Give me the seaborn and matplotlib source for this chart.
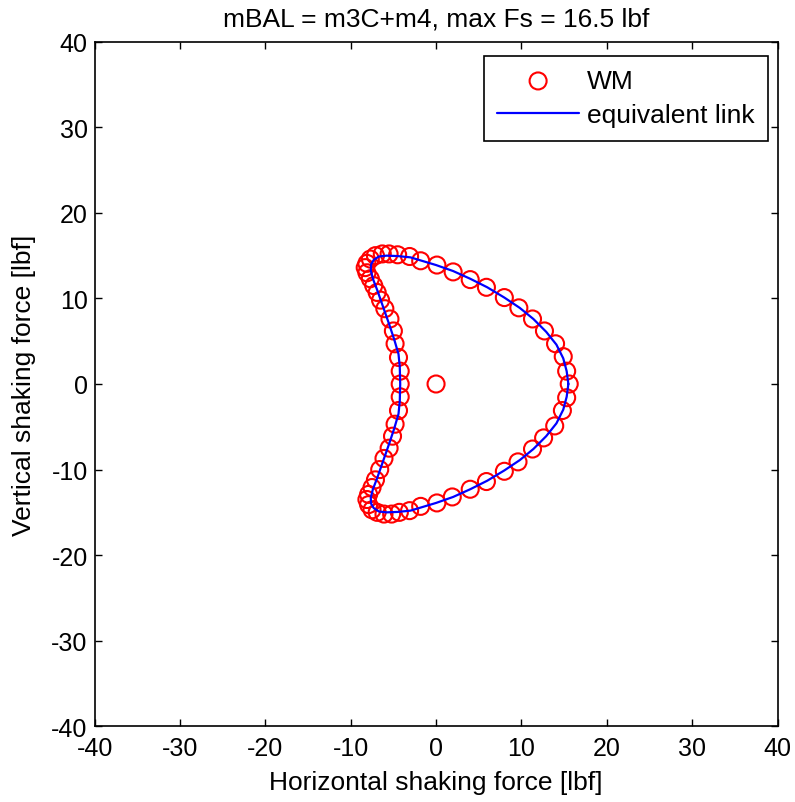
import pandas as pd
import seaborn as sns
import matplotlib.pyplot as plt

# WM points, counter-clockwise from the right tip
wm_x = [15.6, 15.3, 14.9, 14.0, 12.7, 11.3, 9.7, 8.0, 5.9, 4.0, 2.0, 0.1, -1.8, -3.1,
        -4.5, -5.5, -6.3, -7.1, -7.7, -8.1, -8.3, -8.1, -7.7, -7.3, -6.9, -6.5, -6.0,
        -5.4, -5.0, -4.8, -4.4, -4.2, -4.2,
        -4.2, -4.4, -4.8, -5.1, -5.5, -6.1, -6.6, -7.1, -7.5, -7.9, -8.1, -7.9, -7.5,
        -6.9, -6.1, -5.2, -4.3, -3.1, -1.8, 0.1, 1.9, 4.0, 5.9, 8.0, 9.6, 11.3, 12.6,
        13.9, 14.8, 15.3, 0.0]
wm_y = [0.0, 1.5, 3.2, 4.7, 6.2, 7.6, 8.9, 10.1, 11.3, 12.2, 13.1, 13.9, 14.4, 14.9,
        15.1, 15.2, 15.2, 15.0, 14.6, 14.1, 13.6, 13.0, 12.3, 11.5, 10.7, 9.8, 8.8,
        7.6, 6.2, 4.7, 3.1, 1.5, 0.0,
        -1.5, -3.1, -4.7, -6.1, -7.5, -8.7, -10.0, -11.2, -12.1, -12.9, -13.5, -14.1, -14.7,
        -15.0, -15.2, -15.2, -15.0, -14.8, -14.3, -13.9, -13.2, -12.3, -11.4, -10.2, -9.1, -7.6, -6.3,
        -4.9, -3.1, -1.6, 0.0]

# equivalent link curve
link_x = [15.5, 15.3, 14.9, 14.1, 12.9, 11.4, 9.8, 8.0, 6.0, 4.0, 2.0, 0.0, -2.0, -3.0,
          -4.5, -5.8, -6.7, -7.3, -7.6, -7.65, -7.4, -6.9, -6.2, -5.5, -4.9, -4.4, -4.25,
          -4.2, -4.25, -4.4, -4.9, -5.5, -6.2, -6.9, -7.4, -7.65, -7.6, -7.3, -6.7, -5.8,
          -4.5, -3.0, -2.0, 0.0, 2.0, 4.0, 6.0, 8.0, 9.8, 11.4, 12.9, 14.1, 14.9, 15.3, 15.5]
link_y = [0.0, 1.5, 3.0, 4.6, 6.1, 7.6, 8.9, 10.1, 11.3, 12.3, 13.2, 13.9, 14.5, 14.8,
          14.95, 15.0, 14.9, 14.5, 14.0, 13.3, 12.3, 11.0, 9.0, 7.0, 5.2, 3.5, 2.0,
          0.0, -2.0, -3.5, -5.2, -7.0, -9.0, -11.0, -12.3, -13.3, -14.0, -14.5, -14.9, -15.0,
          -14.95, -14.8, -14.5, -13.9, -13.2, -12.3, -11.3, -10.1, -8.9, -7.6, -6.1, -4.6, -3.0, -1.5, 0.0]

x_ticks = [-40, -30, -20, -10, 0, 10, 20, 30, 40]
y_ticks = [-40, -30, -20, -10, 0, 10, 20, 30, 40]

wm_df = pd.DataFrame({'x': wm_x, 'y': wm_y})
link_df = pd.DataFrame({'x': link_x, 'y': link_y})

sns.set_style('ticks')
plt.rcParams['font.family'] = ['Liberation Sans', 'DejaVu Sans']
plt.rcParams['axes.unicode_minus'] = False
plt.rcParams['xtick.direction'] = 'in'
plt.rcParams['ytick.direction'] = 'in'
plt.rcParams['text.color'] = 'black'
plt.rcParams['axes.labelcolor'] = 'black'
plt.rcParams['xtick.color'] = 'black'
plt.rcParams['ytick.color'] = 'black'

fig = plt.figure(figsize=(7.95, 8.03), dpi=100)
ax = fig.add_axes([0.119, 0.0943, 0.859, 0.8525])

sns.scatterplot(data=wm_df, x='x', y='y', ax=ax, s=150, marker='o',
                facecolor='none', edgecolor='red', linewidth=1.5, label='WM')
sns.lineplot(data=link_df, x='x', y='y', ax=ax, sort=False, estimator=None,
             color='blue', linewidth=1.6, label='equivalent link')

ax.set_xlim(-40, 40)
ax.set_ylim(-40, 40)
ax.set_xticks(x_ticks)
ax.set_yticks(y_ticks)
ax.tick_params(axis='both', labelsize=18, length=5, width=1.0,
               top=True, right=True)
ax.tick_params(axis='x', pad=7)
ax.tick_params(axis='y', pad=5)
for sp in ax.spines.values():
    sp.set_linewidth(1.2)
    sp.set_color('black')

ax.set_xlabel('Horizontal shaking force [lbf]', fontsize=19, labelpad=7)
ax.set_ylabel('Vertical shaking force [lbf]', fontsize=19, labelpad=11)
ax.set_title('mBAL = m3C+m4, max Fs = 16.5 lbf', fontsize=19, pad=12)

leg = ax.legend(loc='upper right', bbox_to_anchor=(0.9857, 0.9796), fontsize=19,
                frameon=True, fancybox=False, edgecolor='black', borderaxespad=0,
                handlelength=3.1, handletextpad=0.3, borderpad=0.5,
                labelspacing=0.4)
leg.get_frame().set_linewidth(1.2)
leg.get_frame().set_alpha(1)

fig.savefig('out.png', dpi=100)
